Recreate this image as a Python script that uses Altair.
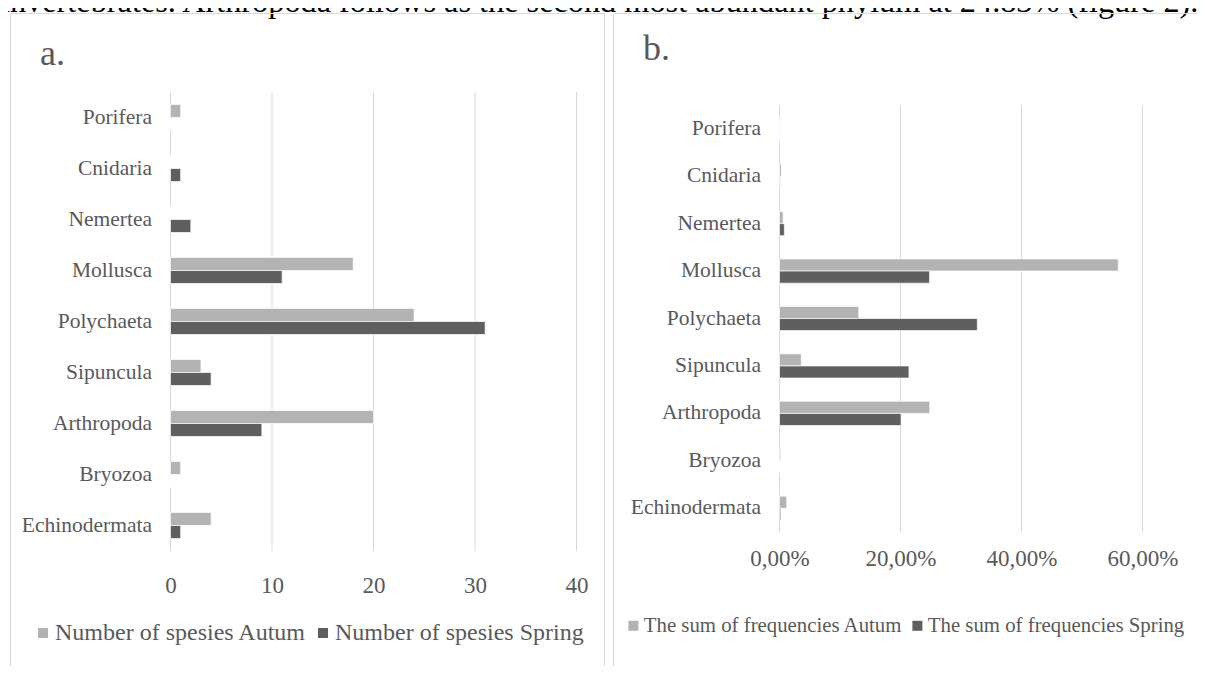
import altair as alt
import pandas as pd

# ---- data ----
phyla = ["Porifera", "Cnidaria", "Nemertea", "Mollusca", "Polychaeta",
         "Sipuncula", "Arthropoda", "Bryozoa", "Echinodermata"]
species_autumn = [1, 0, 0, 18, 24, 3, 20, 1, 4]
species_spring = [0, 1, 2, 11, 31, 4, 9, 0, 1]
freq_autumn = [0.0005, 0.003, 0.006, 0.560, 0.131, 0.036, 0.2483, 0.002, 0.012]
freq_spring = [0.0, 0.001, 0.008, 0.248, 0.327, 0.214, 0.201, 0.0, 0.002]
series_a = ["Number of spesies Autum", "Number of spesies Spring"]
series_b = ["The sum of frequencies Autum", "The sum of frequencies Spring"]
ticks_a = [0, 10, 20, 30, 40]
ticks_b = [0, 0.2, 0.4, 0.6]
caption = ("invertebrates. Arthropoda follows as the second most abundant "
           "phylum at 24.83% (figure 2).")

FONT = "Liberation Serif"
TXT = "#595959"
LIGHT = "#b3b3b3"
DARK = "#5f5f5f"
FRAME = "#d9d9d9"

W, H = 1189, 658  # whole drawing (svg) size

df_a = pd.DataFrame({
    "phylum": phyla * 2,
    "series": [series_a[0]] * len(phyla) + [series_a[1]] * len(phyla),
    "value": species_autumn + species_spring,
})
df_b = pd.DataFrame({
    "phylum": phyla * 2,
    "series": [series_b[0]] * len(phyla) + [series_b[1]] * len(phyla),
    "value": freq_autumn + freq_spring,
})
grid_a = pd.DataFrame({"tick": ticks_a})
grid_b = pd.DataFrame({"tick": ticks_b})

one = alt.Data(values=[{"k": 1}])


def rule(**enc):
    return alt.Chart(one).mark_rule(color=FRAME, strokeWidth=1).encode(
        **{k: alt.value(v) for k, v in enc.items()})


def text(t, x, y, size, color):
    return alt.Chart(alt.Data(values=[{"t": t}])).mark_text(
        align="left", baseline="alphabetic", font=FONT, fontSize=size,
        color=color).encode(text="t:N", x=alt.value(x), y=alt.value(y))


def panel(df, series, ticks, grid_df, domain, xr, yr, xaxis_extra, xpad,
          lx, ly, lfont, lcol):
    xs = alt.Scale(domain=domain, range=xr, nice=False, zero=True)
    xaxis = dict(orient="bottom", offset=yr[1] - H, values=ticks,
                 grid=False, domain=False, ticks=False, tickSize=0,
                 labelFlush=False, title=None, labelFont=FONT,
                 labelColor=TXT, labelFontSize=23, labelPadding=xpad)
    xaxis.update(xaxis_extra)
    grid = alt.Chart(grid_df).mark_rule(color=FRAME, strokeWidth=1).encode(
        x=alt.X("tick:Q", scale=xs, axis=None),
        y=alt.value(yr[0]), y2=alt.value(yr[1]))
    bars = alt.Chart(df).mark_bar(stroke="white", strokeWidth=0.7).encode(
        x=alt.X("value:Q", scale=xs, axis=alt.Axis(**xaxis)),
        y=alt.Y("phylum:N",
                scale=alt.Scale(domain=phyla, range=yr, paddingInner=0.49,
                                paddingOuter=0.245),
                axis=alt.Axis(orient="left", offset=-xr[0], title=None,
                              domain=False, ticks=False, tickSize=0,
                              grid=False, labelFont=FONT, labelColor=TXT,
                              labelFontSize=21.5, labelPadding=19)),
        yOffset=alt.YOffset("series:N", scale=alt.Scale(domain=series)),
        color=alt.Color("series:N",
                        scale=alt.Scale(domain=series, range=[LIGHT, DARK]),
                        legend=alt.Legend(orient="none", legendX=lx,
                                          legendY=ly, direction="horizontal",
                                          title=None, symbolType="square",
                                          symbolSize=100,
                                          symbolStrokeWidth=0,
                                          symbolOffset=4,
                                          labelFont=FONT,
                                          labelFontSize=lfont,
                                          labelColor=TXT, labelLimit=600,
                                          columnPadding=lcol,
                                          labelOffset=0)),
    )
    return [grid, bars]


layers = []
# cropped line of body text above the figure
layers.append(text(caption, -7, 4, 32.3, "black"))
# panel frames
layers += [
    rule(x=2.5, y=5.5, y2=700),
    rule(x=596.5, y=5.5, y2=700),
    rule(x=2.5, x2=596.5, y=5.5),
    rule(x=605.5, y=5.5, y2=700),
    rule(x=605.5, x2=1300, y=5.5),
]
# panel tags
layers.append(text("a.", 32, 57, 36, TXT))
layers.append(text("b.", 635, 52, 36, TXT))

layers += panel(df_a, series_a, ticks_a, grid_a, [0, 40], [162.5, 568.5],
                [84, 543], {}, 23, 19, 613, 24, 0)
layers += panel(df_b, series_b, ticks_b, grid_b, [0, 0.6], [771.5, 1134.5],
                [97, 524],
                {"labelExpr": "replace(format(datum.value, '.2%'), '.', ',')"},
                15, 611, 607, 20.8, 0)

chart = alt.layer(*layers).resolve_scale(
    x="independent", y="independent", color="independent",
    yOffset="independent"
).resolve_legend(color="independent").properties(
    width=W, height=H, padding=0, background="white",
    autosize=alt.AutoSizeParams(type="none")
).configure_view(strokeWidth=0)

chart.save("out.html", embed_options={"renderer": "svg", "actions": False})
